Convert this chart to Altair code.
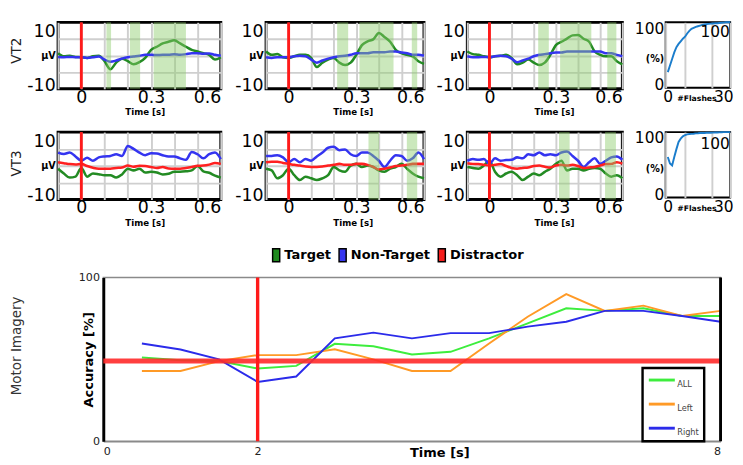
import altair as alt
import pandas as pd

FONT = "DejaVu Sans"
GRID = "#cfcfcf"
SHADE = "#8ccc6a"
RED = "#ff1a1a"

TIME = [-0.1, -0.075, -0.05, -0.025, 0.0, 0.025, 0.05, 0.075, 0.1, 0.125,
        0.15, 0.175, 0.2, 0.225, 0.25, 0.275, 0.3, 0.325, 0.35, 0.375,
        0.4, 0.425, 0.45, 0.475, 0.5, 0.525, 0.55, 0.575, 0.6]

# ---- VT2 row (Target / Non-Target) ----
VT2_C1_TARGET = [1.0, -0.3, -0.1, -0.6, -0.7, -1.0, -0.3, -0.1, -2.4, -5.8, -3.0, -1.3, -2.4, -3.7, -2.8,
                 -1.0, 2.4, 3.7, 5.1, 5.8, 6.4, 5.1, 3.7, 2.4, 1.7, 1.0, 0.3, -1.7, -0.7]
VT2_C1_NONTARGET = [-0.6, -0.7, -0.6, -0.7, -0.7, -1.0, -0.7, -0.4, -1.7, -2.6, -2.1, -1.3, -0.7, -0.4, -0.1,
                    0.3, 0.3, 0.2, 0.3, 0.3, 0.5, 0.3, 0.6, 1.0, 1.0, 0.8, 0.9, 0.3, -0.1]
VT2_C2_TARGET = [1.7, 0.3, 0.6, -0.7, -1.0, -0.3, 0.3, 0.3, -1.0, -4.8, -3.0, -1.7, -1.0, -3.0, -4.0,
                 -3.0, 0.3, 4.4, 6.0, 6.8, 9.5, 7.8, 5.8, 2.4, 1.0, 0.3, -0.3, -2.4, -3.5]
VT2_C2_NONTARGET = [-0.7, -1.0, -0.7, -0.7, -0.7, -0.3, -0.1, -0.3, -1.7, -3.0, -2.1, -1.3, -0.7, -0.3, -0.1,
                    0.3, 1.0, 1.0, 1.0, 1.4, 1.4, 1.4, 1.7, 1.7, 1.3, 1.0, 0.3, 0.3, -0.1]
VT2_C3_TARGET = [1.7, 0.6, 0.3, -0.3, -0.7, -0.3, -0.1, 0.3, -1.0, -3.7, -3.0, -1.7, -3.0, -4.0, -3.0,
                 0.3, 4.4, 5.8, 7.1, 8.5, 8.7, 7.1, 5.8, 1.7, 0.3, -0.3, -0.3, -2.4, -3.7]
VT2_C3_NONTARGET = [-0.3, -0.7, -0.7, -0.6, -0.7, -0.3, -0.1, -0.3, -1.3, -2.8, -2.1, -1.3, -0.3, 0.3, 0.6,
                    1.0, 1.3, 1.3, 1.7, 1.7, 1.7, 1.7, 1.7, 1.7, 1.7, 1.0, 1.0, 0.3, -0.3]

# ---- VT3 row (Target / Non-Target / Distractor) ----
VT3_C1_TARGET = [-1.2, -3.2, -4.9, -4.5, -0.9, -4.5, -3.2, -3.5, -3.9, -3.9, -4.9, -3.6, -1.2, -1.9, -1.2,
                 -2.8, -2.5, -2.8, -3.6, -3.3, -2.5, -2.5, -2.3, -1.9, -0.1, -2.3, -2.9, -4.1, -4.9]
VT3_C1_NONTARGET = [5.5, 4.9, 5.5, 3.9, 2.1, 3.3, 2.1, 3.5, 3.9, 4.1, 4.8, 4.1, 8.2, 7.0, 5.5,
                    4.4, 5.2, 5.1, 4.4, 3.9, 3.9, 3.1, 2.5, 5.7, 4.8, 3.1, 4.8, 5.5, 2.8]
VT3_C1_DISTRACTOR = [1.5, 1.1, 0.7, 0.5, 0.8, -0.1, -0.8, -1.2, -1.2, -1.2, -0.9, -0.7, 0.1, -0.4, 0.0,
                     -0.1, -0.5, -0.9, -0.5, -1.1, -1.2, -1.2, -0.9, -0.5, 0.0, 0.1, 0.5, 1.2, 0.8]
VT3_C2_TARGET = [-1.2, -1.9, -5.2, -3.9, -1.2, -3.9, -5.9, -4.5, -5.2, -5.9, -5.2, -3.9, -0.5, -1.9, -2.5,
                 0.1, 0.8, -0.5, 0.1, -0.5, -1.9, -2.5, -1.2, -0.5, 0.8, -1.2, -3.2, -4.5, -5.2]
VT3_C2_NONTARGET = [4.1, 4.1, 4.4, 3.5, 1.5, 2.8, 1.5, 2.8, 2.1, 3.9, 5.5, 7.5, 7.9, 6.5, 6.8,
                    4.8, 4.1, 5.5, 5.5, 4.1, 2.1, -0.5, 2.1, 4.4, 4.1, 2.1, 3.1, 5.5, 2.8]
VT3_C2_DISTRACTOR = [1.5, 1.7, 1.7, 1.2, 0.8, 0.4, 0.1, -0.3, -0.5, -0.5, -0.3, 0.1, 0.4, 0.8, 0.4,
                     0.4, 0.8, 0.8, 0.4, -0.5, -1.5, -1.2, -0.7, -0.1, 0.1, 0.4, 0.8, 0.8, 0.8]
VT3_C3_TARGET = [-0.5, -0.9, -1.2, 0.1, 2.1, -2.5, -4.5, -3.2, -2.5, -3.9, -5.9, -4.5, -3.2, -3.9, -2.5,
                 -1.2, 0.8, 2.1, -1.9, -1.2, -1.2, -1.9, -1.2, -0.9, -1.2, -3.2, -4.5, -3.9, -5.2]
VT3_C3_NONTARGET = [2.1, 2.8, 2.5, 2.8, 0.8, 3.1, 2.1, 2.4, 2.5, 3.5, 3.1, 4.8, 4.4, 5.5, 4.4,
                    4.8, 4.4, 5.5, 5.9, 4.1, 2.1, -0.5, 1.5, 3.1, 0.8, 2.1, 3.5, 3.9, 2.5]
VT3_C3_DISTRACTOR = [1.1, 0.8, 0.7, 0.4, 0.1, 0.4, 0.7, -0.1, -0.9, -1.2, -0.9, -0.7, -0.1, 0.1, -0.4,
                     -0.7, 0.1, 0.4, 0.1, 0.4, -0.1, -0.9, -0.7, -0.5, 0.1, 0.7, 0.8, 1.5, 0.9]

# significant intervals (start, end) in s
SHADE_VT2_C1 = [(0.108, 0.128), (0.209, 0.253), (0.311, 0.450)]
SHADE_VT2_C2 = [(0.215, 0.264), (0.314, 0.465), (0.546, 0.570)]
SHADE_VT2_C3 = [(0.220, 0.268), (0.319, 0.460), (0.532, 0.573)]
SHADE_VT3_C1 = []
SHADE_VT3_C2 = [(0.354, 0.401), (0.524, 0.570)]
SHADE_VT3_C3 = [(0.314, 0.362), (0.522, 0.571)]

CONDITIONS = ["Target", "Non-Target", "Distractor"]
CONDITION_COLORS = ["#1e8a1e", "#3636f0", "#f51e1e"]
LINE_COLOR = dict(zip(CONDITIONS, ["#238b23", "#3434f0", "#ff2020"]))

# accuracy vs number of flashes
FLASHES = [1, 2, 3, 4, 5, 6, 7, 8, 9, 10, 11, 12, 13, 14, 15,
           16, 17, 18, 19, 20, 21, 22, 23, 24, 25, 26, 27, 28, 29, 30]
ACC_VT2 = [24, 34, 44, 54, 62, 67, 71, 75, 78, 83, 87, 90, 91.5, 93, 94,
           95, 96, 96.7, 97.2, 97.6, 98, 98.3, 98.5, 98.7, 99, 99.3, 99.6, 100, 100, 100]
ACC_VT3 = [62, 52, 49, 62, 74, 85, 90, 93.5, 95.5, 96.5, 97, 97.3, 97.6, 98, 98.2,
           98.5, 98.5, 98.7, 99, 99, 99, 99.2, 99.4, 99.5, 99.6, 99.8, 100, 100, 100, 100]

# motor imagery
MI_TIME = [0.5, 1.0, 1.5, 2.0, 2.5, 3.0, 3.5, 4.0, 4.5, 5.0, 5.5, 6.0, 6.5, 7.0, 7.5, 8.0]
MI_ALL = [51.1, 49.5, 49, 44.4, 46, 59.5, 58, 53, 54.6, 62.8, 72, 81.2, 79.6, 81.2, 76.5, 76.5]
MI_LEFT = [42.9, 42.9, 48.9, 52.6, 52.6, 56.2, 50, 42.9, 42.9, 59.7, 76, 89.8, 79.6, 82.8, 76.5, 79.6]
MI_RIGHT = [59.7, 56, 50, 36.2, 39.5, 62.8, 66.3, 62.8, 66, 66, 70, 73, 79.6, 79.6, 76.5, 73]
MI_SERIES = ["ALL", "Left", "Right"]
MI_COLORS = ["#3ded3d", "#ff9a26", "#2b2bea"]
CHANCE = 49
CUE_TIME = 2
MI_RANGE = [0, 8]
ACC_RANGE = [0, 100]


def cond(test, a, b):
    return {"condition": {"test": test, "value": a}, "value": b}


def erp_panel(series, shades, width, height, ext, row_title=None, title_y=None):
    xs = alt.Scale(domain=[-0.1, 0.6], nice=False, zero=False)
    ys = alt.Scale(domain=[-14, 14], nice=False, zero=False)
    xaxis = alt.Axis(
        values=[-0.1, 0, 0.1, 0.2, 0.3, 0.4, 0.5, 0.6],
        labelExpr="abs(datum.value) < 0.001 ? '0' : abs(datum.value - 0.3) < 0.001 ? '0.3' : "
                  "abs(datum.value - 0.6) < 0.001 ? '0.6' : ''",
        grid=True, gridColor=GRID, gridWidth=2, domain=False, ticks=False,
        labelFontSize=18, labelPadding=0, labelFlush=True, labelOverlap=False, labelColor="black",
        title="Time [s]", titleFontSize=9, titleFontWeight="bold", titlePadding=2, titleX=90,
        titleColor="black")
    ykw = dict(
        values=[-12.6, -7, 0, 7, 10],
        labelExpr="datum.value == 10 ? '10' : datum.value == 0 ? 'μV' : datum.value < -10 ? '-10' : ''",
        grid=True, gridColor=cond("datum.value == 10 || datum.value < -10", "transparent", GRID),
        gridWidth=2, domain=False, ticks=False,
        labelFontSize=cond("datum.value == 0", 10, 18),
        labelFontWeight=cond("datum.value == 0", "bold", "normal"),
        labelPadding=3, minExtent=ext, maxExtent=ext, labelOverlap=False, labelColor="black")
    if row_title:
        ykw.update(title=row_title, titleFontSize=14, titleFontWeight="normal", titlePadding=4,
                   titleY=title_y, titleColor="#222")
    else:
        ykw["title"] = None
    yaxis = alt.Axis(**ykw)
    X = lambda f: alt.X(f, scale=xs, axis=xaxis)
    Y = lambda f: alt.Y(f, scale=ys, axis=yaxis)
    layers = []
    for name, vals in series:
        df = pd.DataFrame({"t": TIME, "v": vals})
        layers.append(alt.Chart(df).mark_line(color=LINE_COLOR[name], strokeWidth=2.6,
                                               interpolate="monotone").encode(x=X("t:Q"), y=Y("v:Q")))
    if shades:
        sd = pd.DataFrame(shades, columns=["s", "e"])
        layers.append(alt.Chart(sd).mark_rect(color=SHADE, opacity=0.45).encode(x=X("s:Q"), x2="e:Q"))
    layers.append(alt.Chart(pd.DataFrame({"t": [0.0]})).mark_rule(color=RED, strokeWidth=3)
                  .encode(x=X("t:Q")))
    return alt.layer(*layers).properties(
        width=width, height=height,
        view=alt.ViewBackground(stroke="black", strokeWidth=3))


def acc_panel(vals, annot_x, annot_y, width, height, ext):
    xs = alt.Scale(domain=[0, 30], nice=False, zero=False)
    ys = alt.Scale(domain=[0, 100], nice=False, zero=False)
    xaxis = alt.Axis(
        values=[0, 9, 21.5, 30],
        labelExpr="datum.value == 0 ? '0' : datum.value == 30 ? '30' : ''",
        grid=True, gridColor=GRID, gridWidth=2, domain=False, ticks=False,
        labelFontSize=16, labelPadding=1, labelFlush=True, labelFlushOffset=3, labelOverlap=False,
        labelColor="black", title="#Flashes", titleFontSize=8, titleFontWeight="bold",
        titleX=32, titleY=11, titleBaseline="middle", titleColor="black")
    yaxis = alt.Axis(
        values=[4, 44, 91],
        labelExpr="datum.value == 91 ? '100' : datum.value == 44 ? '(%)' : '0'",
        grid=False, domain=False, ticks=False,
        labelFontSize=cond("datum.value == 44", 10, 16),
        labelFontWeight=cond("datum.value == 44", "bold", "normal"),
        labelPadding=2, minExtent=ext, maxExtent=ext, labelOverlap=False, labelColor="black",
        title=None)
    df = pd.DataFrame({"n": FLASHES, "acc": vals})
    line = alt.Chart(df).mark_line(color="#1b7dcc", strokeWidth=2).encode(
        x=alt.X("n:Q", scale=xs, axis=xaxis), y=alt.Y("acc:Q", scale=ys, axis=yaxis))
    txt = alt.Chart(pd.DataFrame({"x": [annot_x], "y": [annot_y], "label": ["100"]})).mark_text(
        fontSize=16, color="black").encode(
        x=alt.X("x:Q", scale=xs, axis=xaxis), y=alt.Y("y:Q", scale=ys, axis=yaxis), text="label:N")
    return alt.layer(line, txt).properties(
        width=width, height=height,
        view=alt.ViewBackground(stroke="black", strokeWidth=2))


S = 4
E1, E2, E3, EA = 32, 34.5, 31.5, 25.5

p1 = erp_panel([("Target", VT2_C1_TARGET), ("Non-Target", VT2_C1_NONTARGET)], SHADE_VT2_C1,
               169, 69, E1, "VT2", 29)
p2 = erp_panel([("Target", VT2_C2_TARGET), ("Non-Target", VT2_C2_NONTARGET)], SHADE_VT2_C2,
               164, 69, E2)
p3 = erp_panel([("Target", VT2_C3_TARGET), ("Non-Target", VT2_C3_NONTARGET)], SHADE_VT2_C3,
               161, 69, E3)
a1 = acc_panel(ACC_VT2, 23, 85, 67, 68, EA)

p4 = erp_panel([("Target", VT3_C1_TARGET), ("Non-Target", VT3_C1_NONTARGET),
                ("Distractor", VT3_C1_DISTRACTOR)], SHADE_VT3_C1, 169, 70, E1, "VT3", 32)
p5 = erp_panel([("Target", VT3_C2_TARGET), ("Non-Target", VT3_C2_NONTARGET),
                ("Distractor", VT3_C2_DISTRACTOR)], SHADE_VT3_C2, 164, 70, E2)
p6 = erp_panel([("Target", VT3_C3_TARGET), ("Non-Target", VT3_C3_NONTARGET),
                ("Distractor", VT3_C3_DISTRACTOR)], SHADE_VT3_C3, 161, 70, E3)
a2 = acc_panel(ACC_VT3, 23, 82, 67, 68, EA)

row1 = alt.hconcat(p1, p2, p3, a1, spacing=S)
row2 = alt.hconcat(p4, p5, p6, a2, spacing=S)
top = alt.vconcat(row1, row2, spacing=9)

# ---- Motor imagery chart ----
mi_rows = []
for name, vals in zip(MI_SERIES, [MI_ALL, MI_LEFT, MI_RIGHT]):
    for t, v in zip(MI_TIME, vals):
        mi_rows.append({"time": t, "acc": v, "series": name})
mi_df = pd.DataFrame(mi_rows)

MI_W, MI_H = 641, 170

bxs = alt.Scale(domain=MI_RANGE, nice=False, zero=False)
bys = alt.Scale(domain=ACC_RANGE, nice=False, zero=False)
bxaxis = alt.Axis(values=[0, 2, 8], grid=False, domainColor="#8a8a8a", domainWidth=1.5, ticks=False,
                  labelFontSize=11.5, labelPadding=5, labelColor="#222", labelOverlap=False,
                  title="Time [s]", titleFontSize=13.5, titleFontWeight="bold", titleX=349, titleY=12,
                  titleBaseline="middle", titleColor="black")
byaxis = alt.Axis(values=[0, 100], grid=False, domainColor="black", domainWidth=3, ticks=False,
                  labelFontSize=11.5, labelPadding=4, labelColor="#222", labelOverlap=False,
                  title="Accuracy [%]", titleFontSize=13.5, titleFontWeight="bold", titlePadding=4,
                  minExtent=4, maxExtent=4, titleColor="black")
BX = lambda f: alt.X(f, scale=bxs, axis=bxaxis)
BY = lambda f: alt.Y(f, scale=bys, axis=byaxis)

mi_lines = alt.Chart(mi_df).mark_line(strokeWidth=2).encode(
    x=BX("time:Q"), y=BY("acc:Q"),
    color=alt.Color("series:N", scale=alt.Scale(domain=MI_SERIES, range=MI_COLORS),
                    legend=alt.Legend(orient="none", legendX=560, legendY=94, title=None,
                                      symbolType="M-1,0H3.5", symbolSize=144, symbolStrokeWidth=3,
                                      rowPadding=9, labelOffset=16, labelFontSize=8.5,
                                      labelBaseline="top", labelColor="#444", padding=5,
                                      strokeColor="black", fillColor="white")))
chance = alt.Chart(pd.DataFrame({"y": [CHANCE]})).mark_rule(
    color="#ff2a2a", strokeWidth=5, opacity=0.9).encode(y=BY("y:Q"))
cue = alt.Chart(pd.DataFrame({"x": [CUE_TIME]})).mark_rule(
    color=RED, strokeWidth=3.5).encode(x=BX("x:Q"))
border = alt.Chart(pd.DataFrame({"x": [MI_RANGE[1]]})).mark_rule(
    color="black", strokeWidth=3).encode(x=BX("x:Q"))
erp_legend = alt.Chart(pd.DataFrame({"cond": CONDITIONS})).mark_square(
    opacity=0, stroke="black", strokeWidth=1.5).encode(
    fill=alt.Fill("cond:N", scale=alt.Scale(domain=CONDITIONS, range=CONDITION_COLORS),
                  legend=alt.Legend(orient="none", legendX=172, legendY=-31,
                                    direction="horizontal", columns=3, title=None,
                                    symbolType="M-0.55,-1H0.55V1H-0.55Z", symbolSize=180,
                                    symbolStrokeColor="black", symbolStrokeWidth=1.5,
                                    symbolOpacity=1, labelFontSize=13.5, labelFontWeight="bold",
                                    labelOffset=1, columnPadding=4, padding=0,
                                    labelColor="black")))

bottom = alt.layer(mi_lines, chance, cue, border, erp_legend).properties(
    width=MI_W, height=MI_H,
    view=alt.ViewBackground(stroke="#8a8a8a", strokeWidth=1.5))

# narrow empty cell that carries the row label, so that it lines up with the panels above
label_cell = alt.Chart(pd.DataFrame({"v": [0]})).mark_point(opacity=0, size=1).properties(
    width=16, height=MI_H,
    view=alt.ViewBackground(stroke="transparent", strokeWidth=0),
    title=alt.TitleParams("Motor Imagery", orient="left", anchor="middle", frame="group",
                          fontSize=14, fontWeight="normal", color="#333", offset=36, dx=14))

bottom_row = alt.hconcat(label_cell, bottom, spacing=4).resolve_scale(
    color="independent", fill="independent")

chart = alt.concat(top, bottom_row, columns=1, spacing=18, align="each").resolve_scale(
    color="independent", fill="independent"
).properties(
    padding={"left": 0, "top": 1, "right": 0, "bottom": 0}
).configure(font=FONT).configure_legend(strokeWidth=2.5)

chart.save("out.html", embed_options={"renderer": "svg", "actions": False})
